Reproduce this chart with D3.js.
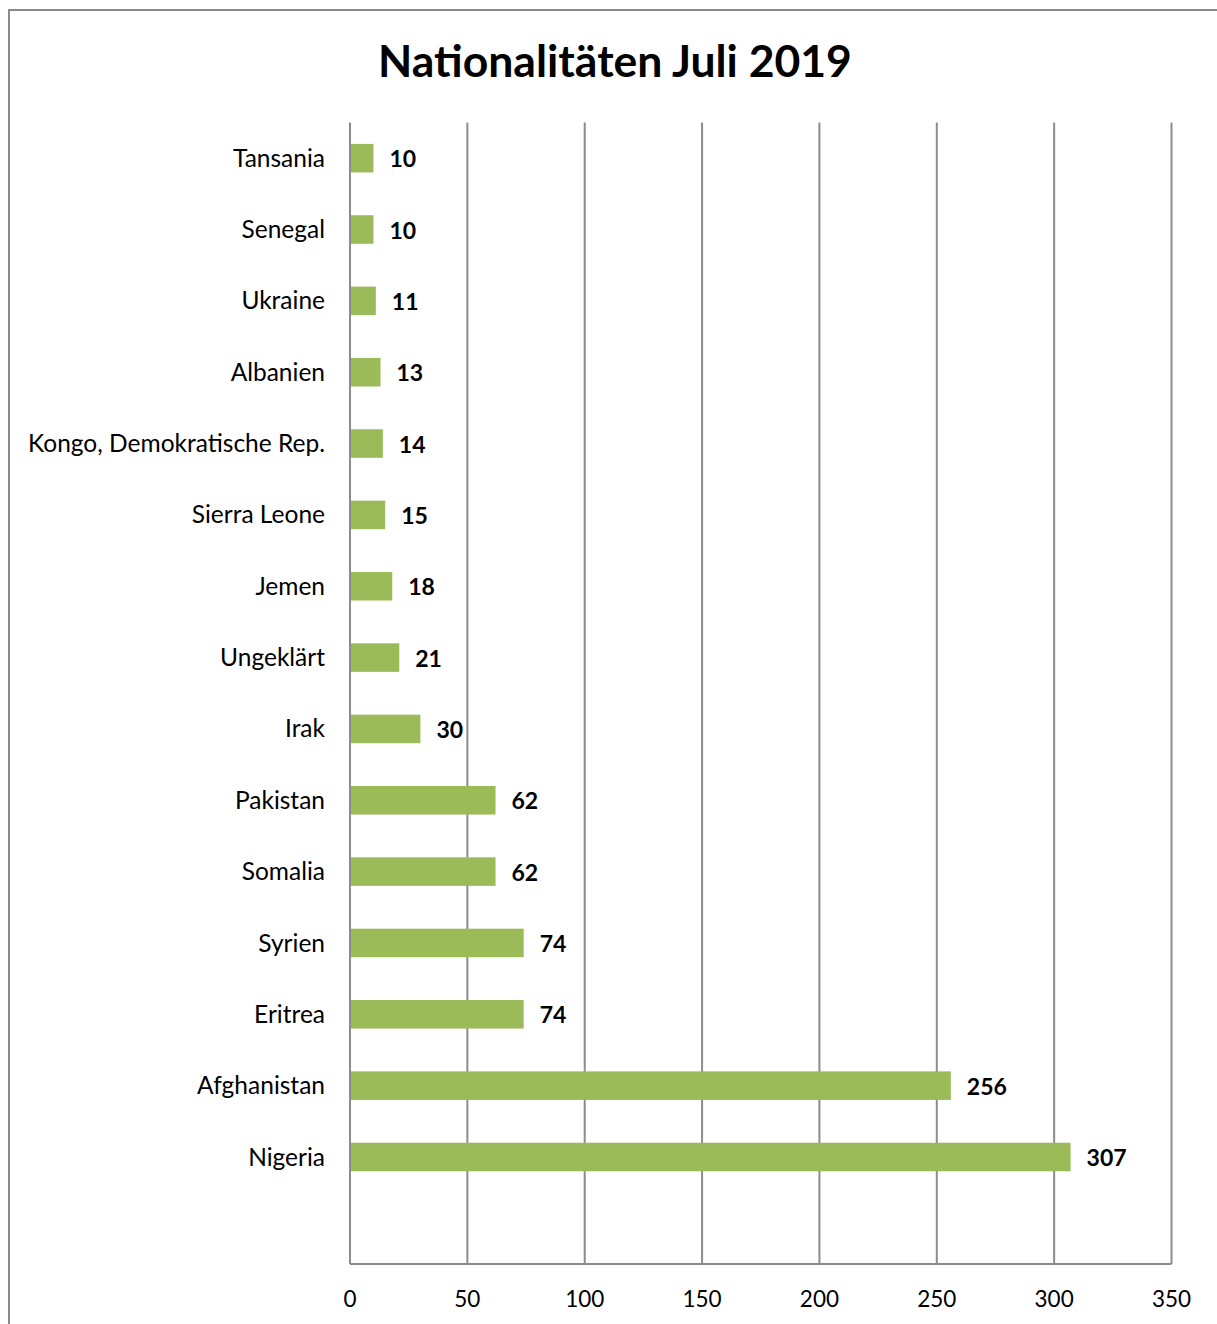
<!DOCTYPE html>
<html>
<head>
<meta charset="utf-8">
<script src="https://cdn.jsdelivr.net/npm/d3@7"></script>
<style>
  body { margin: 0; background: #fff; }
  svg { display: block; font-family: Lato, 'Open Sans', sans-serif; }
</style>
</head>
<body>
<div id="chart"></div>
<script>
const width = 1217;
const height = 1324;

const countries = [
  'Tansania', 'Senegal', 'Ukraine', 'Albanien', 'Kongo, Demokratische Rep.',
  'Sierra Leone', 'Jemen', 'Ungeklärt', 'Irak', 'Pakistan', 'Somalia',
  'Syrien', 'Eritrea', 'Afghanistan', 'Nigeria',
];
const counts = [10, 10, 11, 13, 14, 15, 18, 21, 30, 62, 62, 74, 74, 256, 307];
const xTicks = [0, 50, 100, 150, 200, 250, 300, 350];

const rows = countries.map((c, i)=>({country: c, value: counts[i]}));

const margin = {top: 122.5, left: 350, right: 1217 - 1171.5, bottom: 1324 - 1264};

const svg = d3.select('#chart').append('svg')
  .attr('width', width)
  .attr('height', height);

// outer frame
svg.append('rect')
  .attr('x', 9).attr('y', 10)
  .attr('width', 1240).attr('height', 1340)
  .attr('fill', 'none')
  .attr('stroke', '#8c8c8c')
  .attr('stroke-width', 2);

svg.append('text')
  .attr('x', 615)
  .attr('y', 77)
  .attr('text-anchor', 'middle')
  .attr('font-size', 44.5)
  .attr('font-weight', 'bold')
  .text('Nationalitäten Juli 2019');

const x = d3.scaleLinear()
  .domain([0, 350])
  .range([margin.left, width - margin.right]);

// one empty slot at the bottom, like the original
const y = d3.scaleBand()
  .domain([...countries, ''])
  .range([margin.top, height - margin.bottom])
  .paddingInner(0.6)
  .paddingOuter(0.3);

const grid = svg.append('g')
  .attr('stroke', '#8c8c8c')
  .attr('stroke-width', 2);

grid.selectAll('line')
  .data(xTicks)
  .join('line')
  .attr('x1', (d)=>x(d))
  .attr('x2', (d)=>x(d))
  .attr('y1', margin.top)
  .attr('y2', height - margin.bottom);

grid.append('line')
  .attr('x1', x(0))
  .attr('x2', x(350))
  .attr('y1', height - margin.bottom)
  .attr('y2', height - margin.bottom);

svg.append('g')
  .selectAll('text')
  .data(xTicks)
  .join('text')
  .attr('x', (d)=>x(d))
  .attr('y', 1307)
  .attr('text-anchor', 'middle')
  .attr('font-size', 22.5)
  .text((d)=>d);

svg.append('g')
  .attr('fill', '#9bbb59')
  .selectAll('rect')
  .data(rows)
  .join('rect')
  .attr('x', x(0) + 1)
  .attr('y', (d)=>y(d.country))
  .attr('width', (d)=>x(d.value) - x(0) - 1)
  .attr('height', y.bandwidth());

svg.append('g')
  .selectAll('text')
  .data(rows)
  .join('text')
  .attr('x', 325)
  .attr('y', (d)=>y(d.country) + y.bandwidth() / 2)
  .attr('dy', '0.35em')
  .attr('text-anchor', 'end')
  .attr('font-size', 24.5)
  .text((d)=>d.country);

svg.append('g')
  .selectAll('text')
  .data(rows)
  .join('text')
  .attr('x', (d)=>x(d.value) + 16)
  .attr('y', (d)=>y(d.country) + y.bandwidth() / 2)
  .attr('dy', '0.4em')
  .attr('font-size', 23)
  .attr('font-weight', 'bold')
  .text((d)=>d.value);
</script>
</body>
</html>
